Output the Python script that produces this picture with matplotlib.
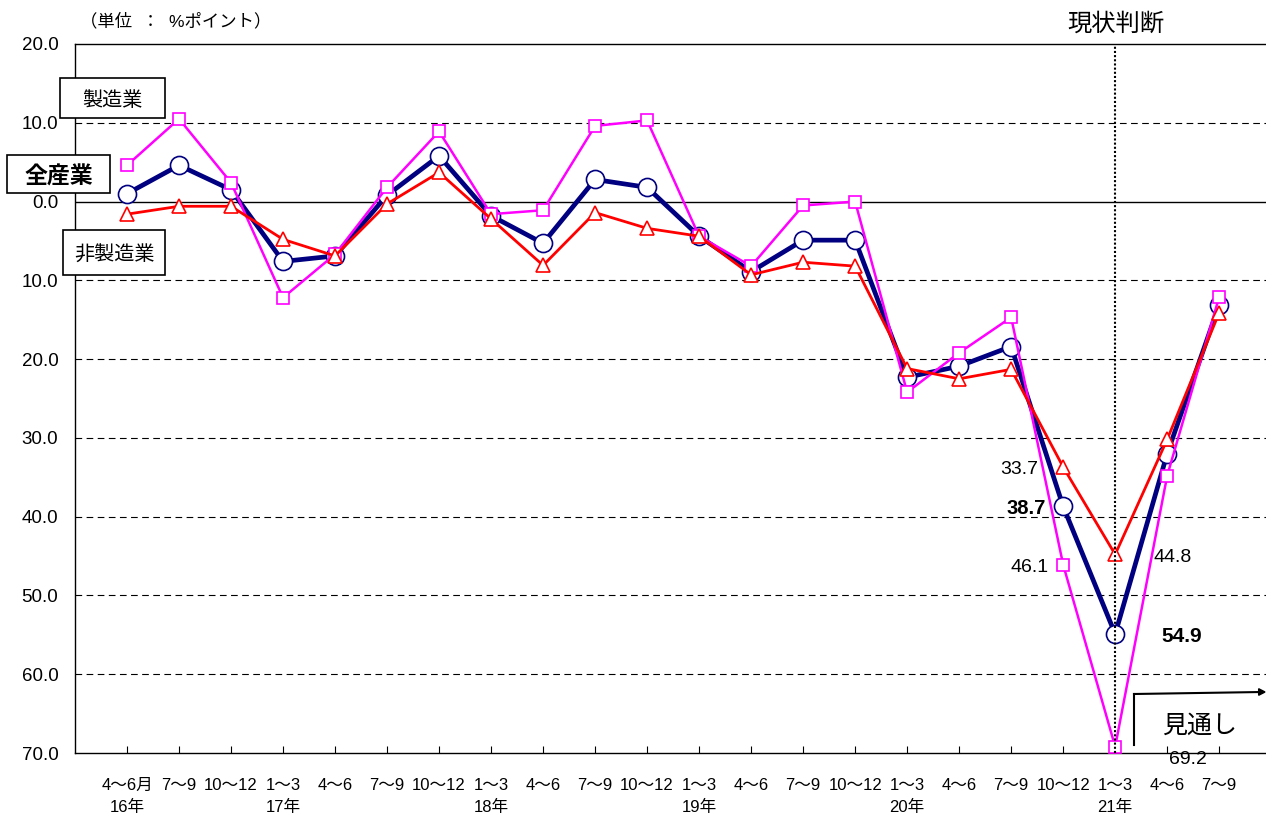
import matplotlib
matplotlib.use("Agg")
import matplotlib.pyplot as plt
from matplotlib.patches import Rectangle, FancyArrow
from matplotlib.ticker import FuncFormatter, FixedLocator

plt.rcParams['font.family'] = ['Liberation Sans', 'Noto Sans CJK JP', 'DejaVu Sans']

quarters = ["4～6月", "7～9", "10～12", "1～3", "4～6", "7～9", "10～12",
            "1～3", "4～6", "7～9", "10～12", "1～3", "4～6", "7～9", "10～12",
            "1～3", "4～6", "7～9", "10～12", "1～3", "4～6", "7～9"]
years = ["16年", "", "", "17年", "", "", "", "18年", "", "", "", "19年", "", "", "",
         "20年", "", "", "", "21年", "", ""]

all_industry = [1.0, 4.6, 1.5, -7.6, -6.9, 0.8, 5.8, -1.8, -5.3, 2.8, 1.8, -4.4,
                -8.9, -4.9, -4.9, -22.3, -20.9, -18.4, -38.7, -54.9, -32.0, -13.1]
manufacturing = [4.6, 10.5, 2.4, -12.2, -6.7, 1.8, 8.9, -1.6, -1.1, 9.6, 10.3, -4.4,
                 -8.2, -0.5, 0.0, -24.2, -19.2, -14.7, -46.1, -69.2, -34.8, -12.1]
non_manufacturing = [-1.6, -0.6, -0.6, -4.8, -6.9, -0.3, 3.7, -2.2, -8.1, -1.4, -3.4, -4.4,
                     -9.3, -7.7, -8.2, -21.2, -22.5, -21.3, -33.7, -44.8, -30.2, -14.1]

W, H = 1266, 817
fig = plt.figure(figsize=(W / 100, H / 100), dpi=100)
ax = fig.add_axes([75 / W, 1 - 753 / H, 1191 / W, (753 - 44) / H])

x = list(range(len(quarters)))

# grid lines
for v in [10, -10, -20, -30, -40, -50, -60]:
    ax.axhline(v, color='black', lw=0.8, ls=(0, (6, 4)), zorder=1)
ax.axhline(0, color='black', lw=1.0, zorder=1)

ax.plot(x, all_industry, color='#000080', lw=3.4, marker='o', ms=13,
        mfc='white', mec='#000080', mew=1.2, zorder=3)
ax.plot(x, manufacturing, color='#FF00FF', lw=1.8, marker='s', ms=8,
        mfc='white', mec='#FF00FF', mew=1.2, zorder=4)
ax.plot(x, non_manufacturing, color='#FF0000', lw=2.0, marker='^', ms=9.5,
        mfc='white', mec='#FF0000', mew=1.2, zorder=5)

ax.set_xlim(-1, 21.9)
ax.set_ylim(-70, 20)

ax.yaxis.set_major_locator(FixedLocator([20, 10, 0, -10, -20, -30, -40, -50, -60, -70]))
ax.yaxis.set_major_formatter(FuncFormatter(lambda v, p: f"{abs(v):.1f}"))
ax.tick_params(axis='y', length=0, labelsize=13.5, pad=12)
ax.set_xticks(x)
ax.set_xticklabels([f"{q}\n{y}" for q, y in zip(quarters, years)], fontsize=12,
                   linespacing=1.55)
ax.tick_params(axis='x', direction='in', length=5, pad=18, width=0.8)

ax.spines['right'].set_visible(False)
for s in ['left', 'bottom', 'top']:
    ax.spines[s].set_linewidth(1.0)

# vertical dotted separator
ax.axvline(19, color='black', lw=1.5, ls=(0, (1, 1)), zorder=6)
fig.text(1116 / W, 1 - 24 / H, "現状判断", ha='center', va='center', fontsize=17.5)

# unit label
fig.text(80 / W, 1 - 21 / H, "（単位  ：  %ポイント）", ha='left', va='center', fontsize=12.5)


def label_box(x0, y0, x1, y1, text, **kw):
    fig.add_artist(Rectangle((x0 / W, 1 - y1 / H), (x1 - x0) / W, (y1 - y0) / H,
                             transform=fig.transFigure, fc='white', ec='black',
                             lw=1.2, zorder=10))
    fig.text((x0 + x1) / 2 / W, 1 - ((y0 + y1) / 2 + 3) / H, text, ha='center',
             va='center', zorder=11, **kw)


label_box(60, 78, 165, 118, "製造業", fontsize=14.5)
label_box(7, 155, 110, 193, "全産業", fontsize=16.5, fontweight='bold')
label_box(63, 230, 165, 275, "非製造業", fontsize=14.5)

# value annotations
fig.text(1019 / W, 1 - 469 / H, "33.7", ha='center', va='center', fontsize=14)
fig.text(1026 / W, 1 - 509 / H, "38.7", ha='center', va='center', fontsize=14.5, fontweight='bold')
fig.text(1030 / W, 1 - 567 / H, "46.1", ha='center', va='center', fontsize=14)
fig.text(1173 / W, 1 - 557 / H, "44.8", ha='center', va='center', fontsize=14)
fig.text(1182 / W, 1 - 637 / H, "54.9", ha='center', va='center', fontsize=15, fontweight='bold')
fig.text(1188 / W, 1 - 759 / H, "69.2", ha='center', va='center', fontsize=14)

# outlook bracket
fig.add_artist(plt.Line2D([1134 / W, 1134 / W], [1 - 745 / H, 1 - 694 / H],
                          color='black', lw=1.5, transform=fig.transFigure))
fig.add_artist(plt.Line2D([1134 / W, 1262 / W], [1 - 694 / H, 1 - 692 / H],
                          color='black', lw=1.5, transform=fig.transFigure))
fig.add_artist(FancyArrow(1258 / W, 1 - 692 / H, 7 / W, 0,
                          width=0.001, head_width=0.008, head_length=0.005,
                          color='black', transform=fig.transFigure,
                          length_includes_head=True))
fig.text(1200 / W, 1 - 726 / H, "見通し", ha='center', va='center', fontsize=18)

fig.savefig("out.png", dpi=100)
